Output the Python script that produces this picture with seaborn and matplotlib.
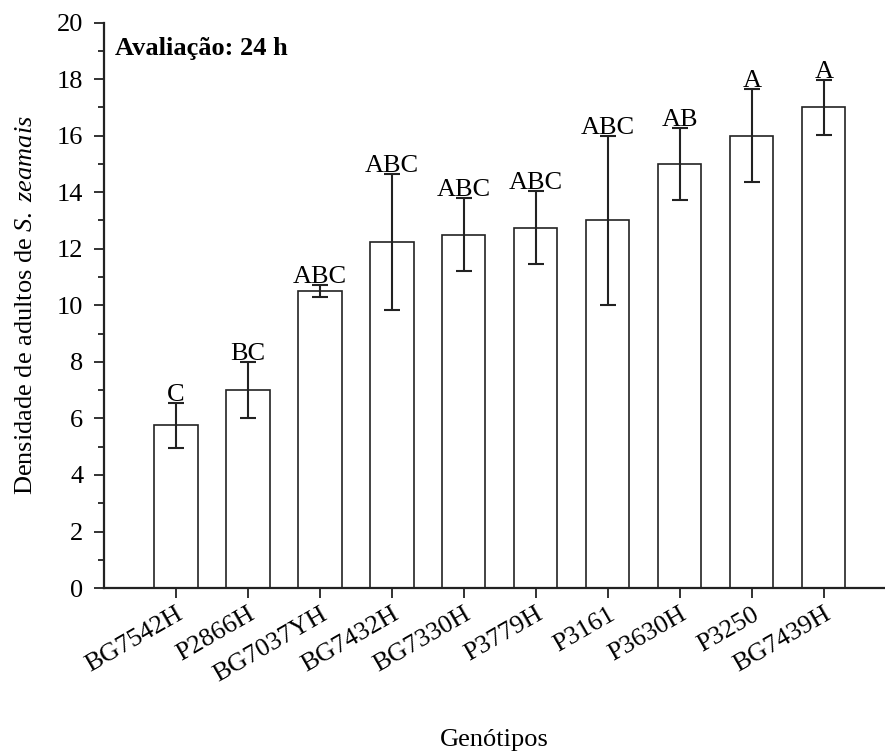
import matplotlib
matplotlib.use("Agg")
import matplotlib.pyplot as plt
import seaborn as sns
import pandas as pd
from matplotlib.ticker import MultipleLocator

genotipos = ["BG7542H", "P2866H", "BG7037YH", "BG7432H", "BG7330H",
             "P3779H", "P3161", "P3630H", "P3250", "BG7439H"]
densidade = [5.75, 7.0, 10.5, 12.25, 12.5, 12.75, 13.0, 15.0, 16.0, 17.0]
erro = [0.8, 1.0, 0.22, 2.4, 1.3, 1.3, 3.0, 1.26, 1.65, 0.96]
letras = ["C", "BC", "ABC", "ABC", "ABC", "ABC", "ABC", "AB", "A", "A"]

sns.set_theme(style="ticks")
plt.rcParams["font.family"] = ["Liberation Serif", "DejaVu Serif"]
plt.rcParams["mathtext.fontset"] = "custom"
plt.rcParams["mathtext.rm"] = "Liberation Serif"
plt.rcParams["mathtext.it"] = "Liberation Serif:italic"
for k in ["text.color", "axes.labelcolor", "xtick.color", "ytick.color"]:
    plt.rcParams[k] = "black"

FS = 19

df = pd.DataFrame({"Genótipos": genotipos, "Densidade": densidade})

fig = plt.figure(figsize=(8.85, 7.52), dpi=100)
ax = fig.add_axes([0.1175, 0.218, 0.8825, 0.752])

sns.barplot(data=df, x="Genótipos", y="Densidade", order=genotipos,
            color="white", edgecolor="#222222", linewidth=1.2, width=0.6,
            errorbar=None, ax=ax)
for p in ax.patches:
    p.set_facecolor("white")

xs = list(range(len(genotipos)))
ax.errorbar(xs, densidade, yerr=erro, fmt="none", ecolor="#222222",
            elinewidth=1.5, capsize=5.8, capthick=1.5, zorder=5)

for x, v, e, l in zip(xs, densidade, erro, letras):
    ax.annotate(l, (x, v + e), xytext=(0, 1.5), textcoords="offset points",
                ha="center", va="baseline", fontsize=FS, color="black")

ax.set_xlim(-1, 9.85)
ax.set_ylim(0, 20)
ax.yaxis.set_major_locator(MultipleLocator(2))
ax.yaxis.set_minor_locator(MultipleLocator(1))
ax.tick_params(axis="y", which="major", length=7, width=1.3, labelsize=FS,
               direction="out", color="#222222", pad=8)
ax.tick_params(axis="y", which="minor", length=4.5, width=1.3,
               direction="out", color="#222222")
ax.tick_params(axis="x", which="major", length=7, width=1.3, labelsize=FS,
               direction="out", color="#222222", pad=4)
ax.set_xticks(xs)
ax.set_xticklabels(genotipos, rotation=30, ha="right", rotation_mode="anchor")

for s in ["top", "right"]:
    ax.spines[s].set_visible(False)
for s in ["left", "bottom"]:
    ax.spines[s].set_linewidth(1.6)
    ax.spines[s].set_color("#222222")

ax.set_ylabel(r"Densidade de adultos de $\it{S.\ zeamais}$", fontsize=FS, labelpad=14)
ax.set_xlabel("Genótipos", fontsize=FS, labelpad=31)

ax.text(-0.85, 19.1, "Avaliação: 24 h", fontsize=FS, fontweight="bold",
        ha="left", va="center")

fig.savefig("out.png", dpi=100)
